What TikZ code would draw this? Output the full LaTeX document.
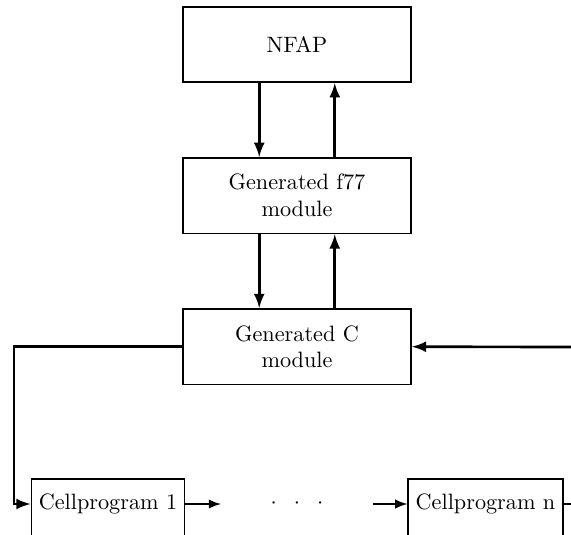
\documentclass[tikz,border=0pt]{standalone}
\usepackage{amsmath}
\usepackage{tikz}
\usetikzlibrary{positioning}

\tikzset{
  module/.style={draw,line width=0.8pt,minimum width=102.6pt,minimum height=34pt,align=center},
  cell/.style={draw,line width=0.8pt,minimum width=68pt,inner ysep=0pt,text height=13.8pt,text depth=22pt,anchor=base},
  link/.style={line width=1.2pt,->,>=latex},
  chain/.style={line width=0.9pt,->,>=latex}
}

\begin{document}
\begin{tikzpicture}[x=0.45pt,y=-0.45pt,node distance=68pt,on grid]
  \clip (0,0) rectangle (571,535);
  \useasboundingbox (0,0) rectangle (571,535);

  \node[module] (nfap) at (297,44.5) {NFAP};
  \node[module] (f77) [below=of nfap] {Generated f77\\module};
  \node[module] (cmod) [below=of f77] {Generated C\\module};

  \node[cell] (cell1) at (108,509.6) {Cellprogram 1};
  \node[cell] (celln) at (485.5,509.6) {Cellprogram n};
  \node[minimum width=68pt,inner sep=0pt] (dots) at (297,504) {$\cdot\hspace{5.5pt}\cdot\hspace{5.5pt}\cdot$};

  \coordinate (lft) at (14,504);
  \coordinate (rin) at (571,347);
  \coordinate (rout) at (571,504);

  \draw[link] ([xshift=-17pt]nfap.south) -- ([xshift=-17pt]f77.north);
  \draw[link] ([xshift=17pt]f77.north) -- ([xshift=17pt]nfap.south);
  \draw[link] ([xshift=-17pt]f77.south) -- ([xshift=-17pt]cmod.north);
  \draw[link] ([xshift=17pt]cmod.north) -- ([xshift=17pt]f77.south);

  \draw[link] (cmod.west) -| (lft) -- (cell1.west |- dots);
  \draw[link] (rin) -- (cmod.east);
  \draw[chain] (cell1.east |- dots) -- (dots.west);
  \draw[chain] (dots.east) -- (celln.west |- dots);
  \draw[line width=1.2pt] (celln.east |- dots) -- (rout);
\end{tikzpicture}
\end{document}
